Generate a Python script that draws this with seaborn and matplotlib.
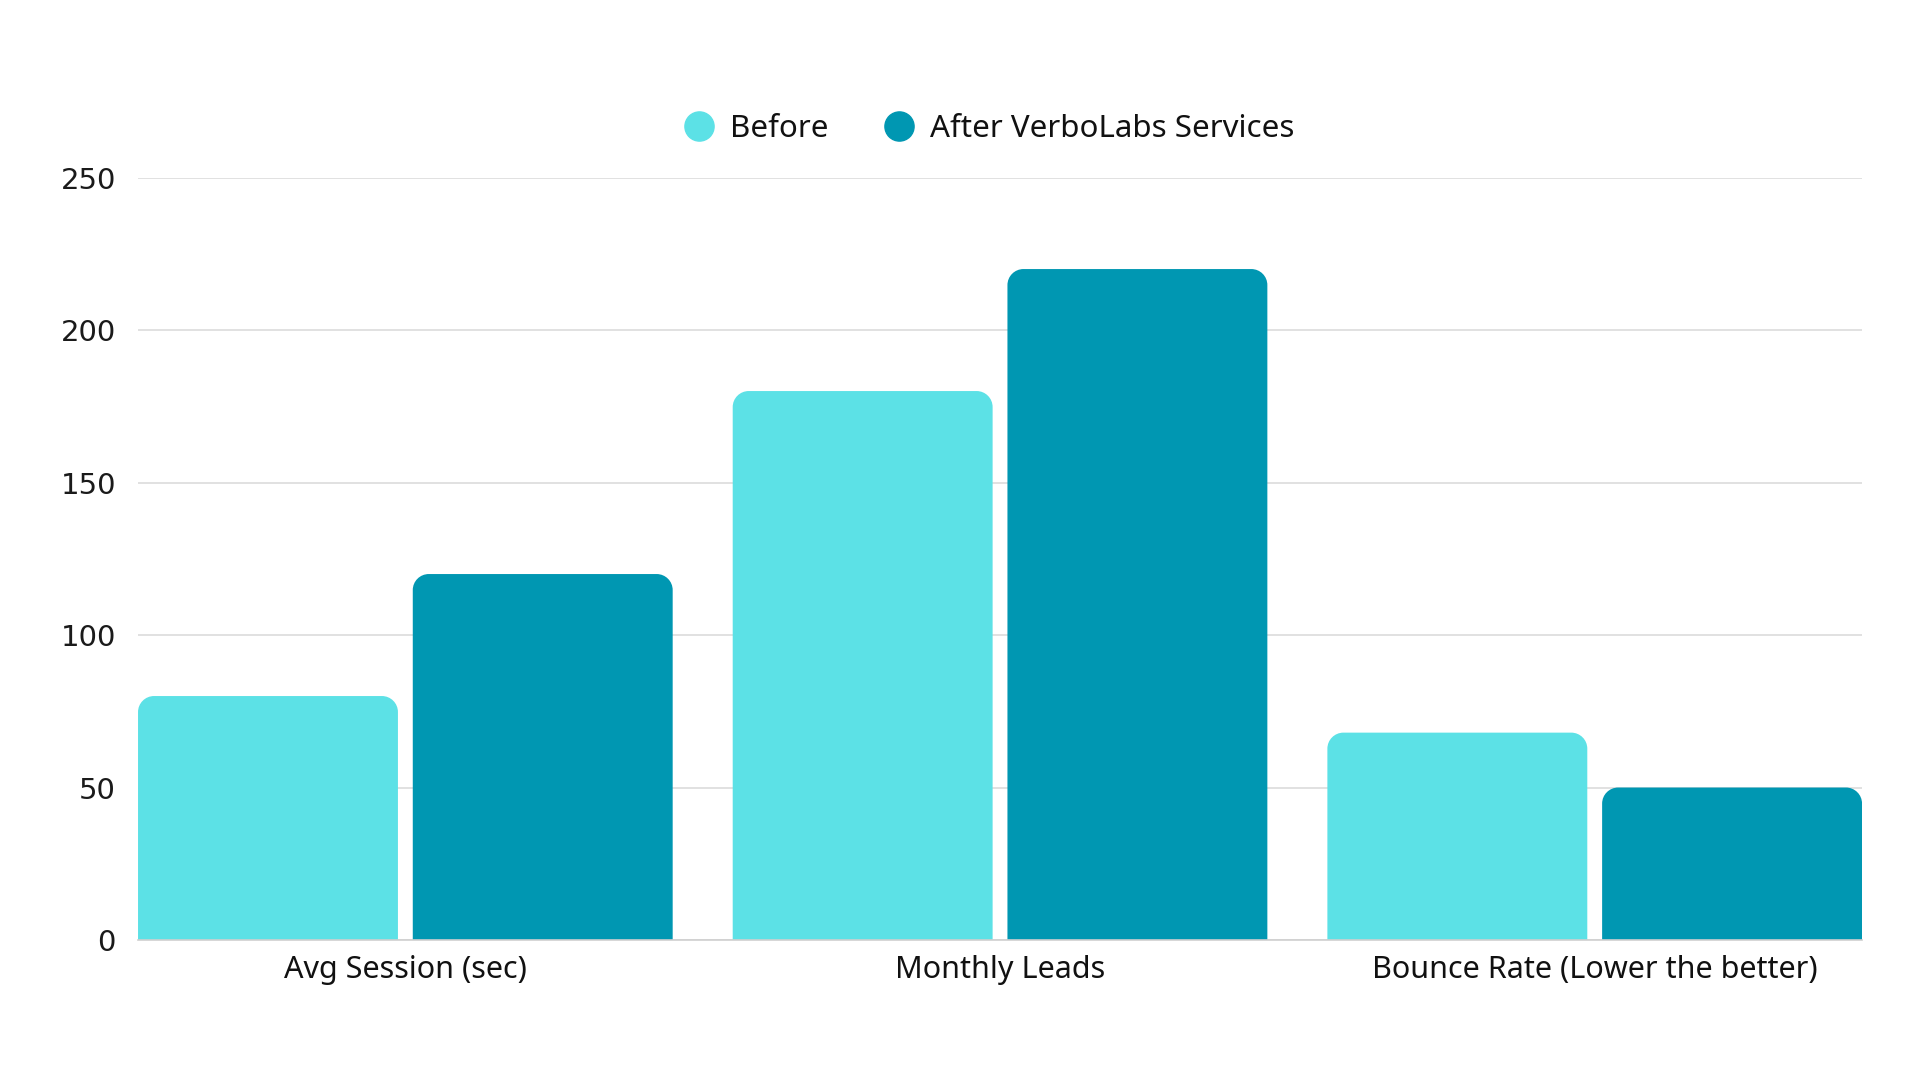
import numpy as np
import pandas as pd
import matplotlib
matplotlib.use("Agg")
import matplotlib.pyplot as plt
from matplotlib.path import Path
from matplotlib.patches import PathPatch
from matplotlib.lines import Line2D
import seaborn as sns

categories = ["Avg Session (sec)", "Monthly Leads", "Bounce Rate (Lower the better)"]
before = [80, 180, 68]
after = [120, 220, 50]
series_names = ["Before", "After VerboLabs Services"]
y_ticks = [0, 50, 100, 150, 200, 250]
colors = ["#5CE1E6", "#0097B2"]

df = pd.DataFrame({
    "Metric": categories * 2,
    "Value": before + after,
    "Period": [series_names[0]] * 3 + [series_names[1]] * 3,
})

sns.set_theme(style="white")
plt.rcParams["font.family"] = ["Noto Sans", "DejaVu Sans"]

fig = plt.figure(figsize=(19.2, 10.8), dpi=100)
ax_pos = [0.0719, 0.1296, 0.8979, 0.706]
ax = fig.add_axes(ax_pos)

sns.barplot(data=df, x="Metric", y="Value", hue="Period", palette=colors,
            width=0.924, gap=0.054, legend=False, ax=ax, saturation=1)

xlim = (-0.4495, 2.4495)
ylim = (0, 250)
ax.set_xlim(*xlim)
ax.set_ylim(*ylim)

# rounded top corners
r_px = 16
rx = r_px * (xlim[1] - xlim[0]) / (ax_pos[2] * 1920)
ry = r_px * (ylim[1] - ylim[0]) / (ax_pos[3] * 1080)
k = 0.5523
for p in list(ax.patches):
    x0 = p.get_x()
    w = p.get_width()
    h = p.get_height()
    x1 = x0 + w
    fc = p.get_facecolor()
    p.set_visible(False)
    verts = [
        (x0, 0), (x0, h - ry),
        (x0, h - ry + k * ry), (x0 + rx - k * rx, h), (x0 + rx, h),
        (x1 - rx, h),
        (x1 - rx + k * rx, h), (x1, h - ry + k * ry), (x1, h - ry),
        (x1, 0), (x0, 0),
    ]
    codes = [Path.MOVETO, Path.LINETO,
             Path.CURVE4, Path.CURVE4, Path.CURVE4,
             Path.LINETO,
             Path.CURVE4, Path.CURVE4, Path.CURVE4,
             Path.LINETO, Path.CLOSEPOLY]
    ax.add_patch(PathPatch(Path(verts, codes), facecolor=fc, edgecolor="none", zorder=2))

ax.set_yticks(y_ticks)
ax.set_yticklabels([str(t) for t in y_ticks], fontfamily="DejaVu Sans")
ax.yaxis.grid(True, color="#DCDCDC", linewidth=1.2)
ax.set_axisbelow(True)
for s in ["left", "right", "top"]:
    ax.spines[s].set_visible(False)
ax.spines["bottom"].set_color("#CFCFCF")
ax.spines["bottom"].set_linewidth(1.2)
ax.spines["bottom"].set_zorder(3)
ax.tick_params(axis="y", length=0, pad=16, labelsize=21, labelcolor="#1a1a1a")
ax.tick_params(axis="x", length=0, pad=11, labelsize=22, labelcolor="#111111")
ax.set_xlabel("")
ax.set_ylabel("")

handles = [Line2D([0], [0], marker="o", linestyle="none", markersize=21,
                  markerfacecolor=c, markeredgecolor=c) for c in colors]
fig.legend(handles, series_names, loc="center", bbox_to_anchor=(0.512, 1 - 129 / 1080),
           ncol=2, frameon=False, fontsize=22.5, handlelength=1.75, handletextpad=0.1,
           columnspacing=1.4, labelcolor="#111111")

fig.savefig("out.png", dpi=100, facecolor="white")
